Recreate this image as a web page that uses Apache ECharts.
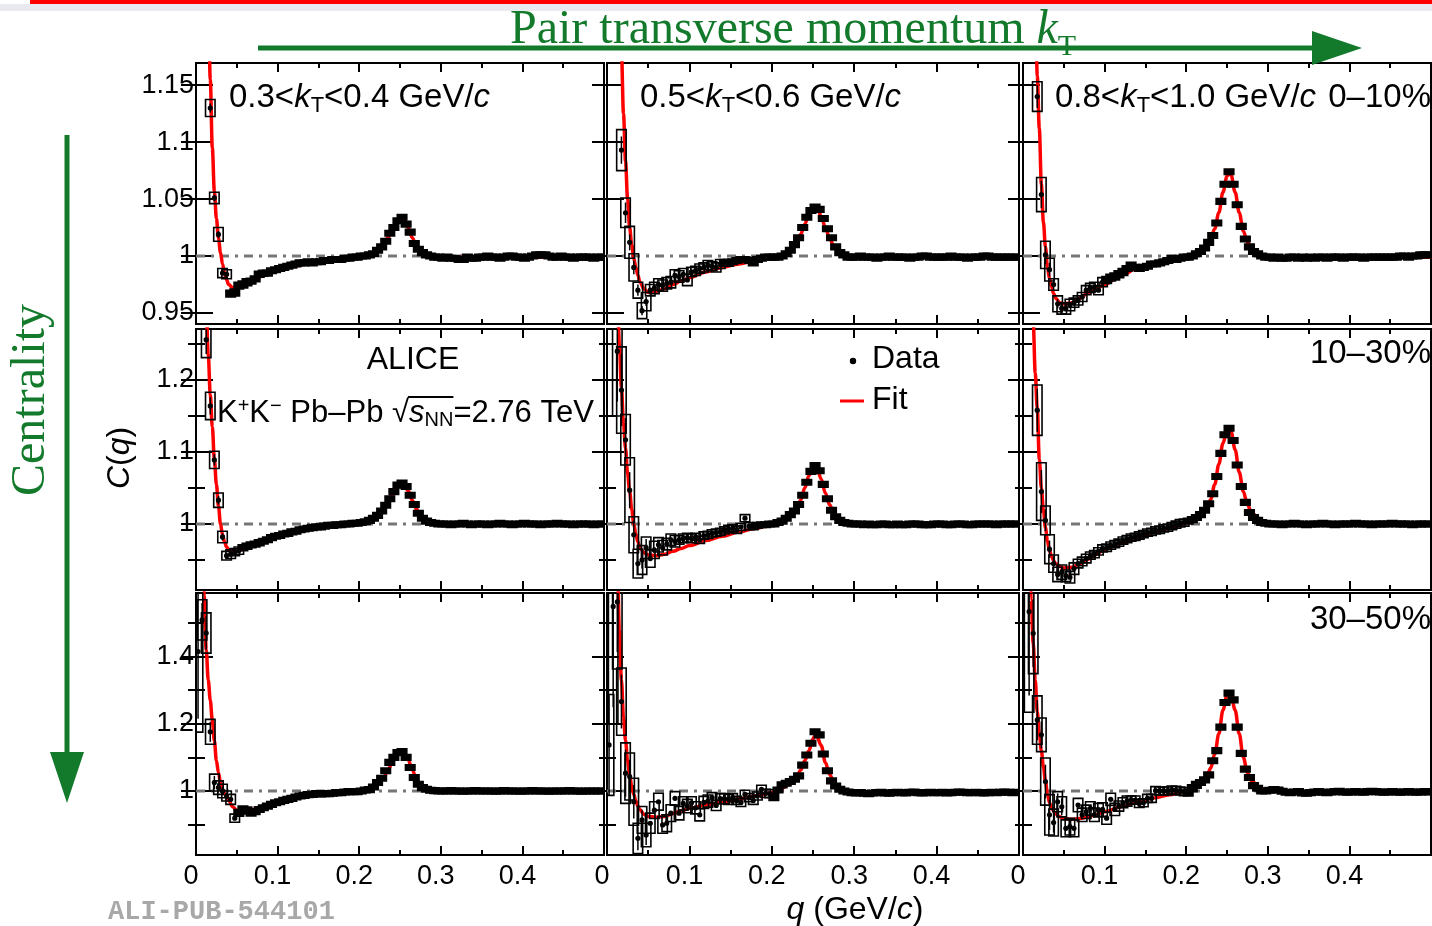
<!DOCTYPE html>
<html>
<head>
<meta charset="utf-8">
<title>K+K- correlation functions, Pb-Pb 2.76 TeV</title>
<script src="https://cdn.jsdelivr.net/npm/echarts@6/dist/echarts.min.js"></script>
<style>
  html, body { margin: 0; padding: 0; background: #fff; }
  #chart { width: 1432px; height: 926px; }
</style>
</head>
<body>
<div id="chart"></div>
<script>
// ---------------------------------------------------------------------------
// Bin centres in q (GeV/c)
const Q = [
  0.0025, 0.0075, 0.0125, 0.0175, 0.0225, 0.0275, 0.0325, 0.0375, 0.0425, 0.0475,
  0.0525, 0.0575, 0.0625, 0.0675, 0.0725, 0.0775, 0.0825, 0.0875, 0.0925, 0.0975,
  0.1025, 0.1075, 0.1125, 0.1175, 0.1225, 0.1275, 0.1325, 0.1375, 0.1425, 0.1475,
  0.1525, 0.1575, 0.1625, 0.1675, 0.1725, 0.1775, 0.1825, 0.1875, 0.1925, 0.1975,
  0.2025, 0.2075, 0.2125, 0.2175, 0.2225, 0.2275, 0.2325, 0.2375, 0.2425, 0.2475,
  0.2525, 0.2575, 0.2625, 0.2675, 0.2725, 0.2775, 0.2825, 0.2875, 0.2925, 0.2975,
  0.3025, 0.3075, 0.3125, 0.3175, 0.3225, 0.3275, 0.3325, 0.3375, 0.3425, 0.3475,
  0.3525, 0.3575, 0.3625, 0.3675, 0.3725, 0.3775, 0.3825, 0.3875, 0.3925, 0.3975,
  0.4025, 0.4075, 0.4125, 0.4175, 0.4225, 0.4275, 0.4325, 0.4375, 0.4425, 0.4475,
  0.4525, 0.4575, 0.4625, 0.4675, 0.4725, 0.4775, 0.4825, 0.4875, 0.4925, 0.4975
];

// Correlation function C(q) per centrality / kT bin (null = outside the frame)
const C_0010_KT1 = [
  null, null, null, 1.130, 1.051, 1.019, 0.985, 0.984, 0.967, 0.968,
  0.974, 0.975, 0.977, 0.978, 0.980, 0.984, 0.985, 0.985, 0.987, 0.988,
  0.989, 0.990, 0.991, 0.992, 0.993, 0.994, 0.994, 0.995, 0.994, 0.995,
  0.995, 0.996, 0.996, 0.997, 0.997, 0.997, 0.998, 0.998, 0.999, 0.999,
  1.000, 1.000, 1.001, 1.002, 1.005, 1.008, 1.013, 1.020, 1.025, 1.031,
  1.034, 1.028, 1.021, 1.011, 1.006, 1.003, 1.001, 1.000, 0.999, 0.999,
  0.998, 0.999, 0.998, 0.998, 0.997, 0.997, 0.999, 0.998, 0.998, 0.999,
  0.999, 1.000, 0.999, 0.999, 0.998, 0.999, 1.000, 1.000, 0.999, 0.999,
  0.998, 0.999, 1.000, 1.001, 1.001, 1.001, 1.000, 0.999, 0.999, 1.000,
  0.999, 0.999, 0.998, 0.999, 0.999, 0.999, 0.999, 0.998, 0.999, 0.999
];
const C_0010_KT2 = [
  null, null, null, 1.093, 1.038, 1.012, 0.990, 0.970, 0.952, 0.960,
  0.970, 0.972, 0.975, 0.974, 0.976, 0.977, 0.983, 0.982, 0.984, 0.979,
  0.986, 0.987, 0.989, 0.990, 0.992, 0.991, 0.990, 0.993, 0.994, 0.994,
  0.995, 0.996, 0.997, 0.997, 0.996, 0.994, 0.997, 0.998, 0.999, 0.999,
  0.999, 0.999, 1.000, 1.002, 1.005, 1.010, 1.016, 1.025, 1.034, 1.040,
  1.043, 1.041, 1.033, 1.024, 1.016, 1.008, 1.003, 1.001, 0.999, 0.999,
  0.999, 1.000, 0.999, 0.999, 0.999, 0.998, 0.999, 0.999, 1.000, 0.999,
  0.999, 0.999, 0.999, 0.998, 0.999, 0.999, 1.000, 1.000, 0.999, 0.999,
  0.999, 0.999, 0.999, 1.000, 0.999, 0.999, 0.999, 0.998, 0.999, 0.999,
  0.999, 1.000, 1.000, 0.999, 0.999, 0.999, 0.999, 0.999, 0.999, 0.999
];
const C_0010_KT3 = [
  null, null, null, 1.140, 1.054, 1.001, 0.988, 0.975, 0.958, 0.954,
  0.954, 0.957, 0.959, 0.961, 0.964, 0.970, 0.972, 0.973, 0.970, 0.977,
  0.979, 0.981, 0.982, 0.984, 0.986, 0.989, 0.992, 0.990, 0.989, 0.990,
  0.991, 0.993, 0.993, 0.994, 0.995, 0.996, 0.998, 0.997, 0.998, 0.999,
  0.999, 1.000, 1.002, 1.004, 1.007, 1.012, 1.018, 1.029, 1.048, 1.063,
  1.074, 1.063, 1.045, 1.026, 1.015, 1.008, 1.004, 1.002, 1.000, 0.999,
  0.999, 0.998, 0.999, 0.998, 0.998, 0.999, 0.999, 0.998, 0.999, 0.998,
  0.999, 0.998, 0.999, 0.999, 0.998, 0.999, 0.999, 0.999, 0.998, 0.999,
  0.999, 0.999, 0.999, 0.998, 0.999, 0.999, 0.999, 0.999, 0.999, 0.999,
  0.999, 0.999, 1.000, 1.000, 0.999, 1.000, 1.000, 1.001, 1.001, 1.001
];
const C_1030_KT1 = [
  null, null, 1.256, 1.164, 1.089, 1.033, 0.982, 0.956, 0.958, 0.961,
  0.963, 0.967, 0.969, 0.971, 0.972, 0.974, 0.976, 0.978, 0.981, 0.983,
  0.984, 0.986, 0.987, 0.989, 0.990, 0.992, 0.993, 0.994, 0.995, 0.996,
  0.996, 0.997, 0.998, 0.998, 0.999, 0.999, 1.000, 1.000, 1.001, 1.001,
  1.002, 1.003, 1.005, 1.008, 1.012, 1.018, 1.026, 1.035, 1.045, 1.054,
  1.057, 1.052, 1.040, 1.027, 1.015, 1.008, 1.004, 1.002, 1.001, 1.000,
  1.000, 1.000, 0.999, 1.000, 1.000, 1.001, 1.000, 0.999, 1.000, 1.000,
  1.000, 0.999, 1.000, 1.000, 1.001, 1.000, 1.000, 0.999, 1.000, 1.000,
  1.001, 1.000, 1.000, 1.000, 0.999, 1.000, 1.000, 1.000, 1.001, 1.000,
  1.000, 1.000, 0.999, 1.000, 1.000, 1.000, 1.000, 0.999, 1.000, 1.000
];
const C_1030_KT2 = [
  null, null, 1.240, 1.186, 1.117, 1.047, 0.985, 0.945, 0.950, 0.967,
  0.952, 0.964, 0.971, 0.967, 0.972, 0.978, 0.976, 0.978, 0.980, 0.981,
  0.980, 0.982, 0.978, 0.984, 0.985, 0.987, 0.988, 0.989, 0.991, 0.993,
  0.994, 0.992, 0.996, 1.008, 0.997, 0.996, 0.998, 0.999, 0.999, 1.000,
  1.000, 1.002, 1.004, 1.008, 1.013, 1.018, 1.027, 1.040, 1.058, 1.073,
  1.081, 1.074, 1.055, 1.035, 1.019, 1.010, 1.005, 1.002, 1.001, 1.000,
  1.000, 1.000, 0.999, 1.000, 0.999, 0.999, 1.000, 1.000, 0.999, 0.999,
  1.000, 0.999, 0.999, 1.000, 1.000, 1.000, 0.999, 0.999, 0.999, 1.000,
  1.000, 1.000, 0.999, 0.999, 1.000, 1.000, 1.000, 0.999, 0.999, 1.000,
  1.000, 1.000, 1.000, 1.000, 0.999, 1.000, 1.000, 1.000, 1.000, 1.000
];
const C_1030_KT3 = [
  null, null, null, 1.158, 1.045, 1.005, 0.965, 0.945, 0.930, 0.933,
  0.928, 0.926, 0.938, 0.945, 0.948, 0.952, 0.956, 0.958, 0.962, 0.966,
  0.967, 0.970, 0.972, 0.974, 0.977, 0.979, 0.981, 0.982, 0.984, 0.986,
  0.988, 0.989, 0.991, 0.992, 0.994, 0.995, 0.997, 0.999, 1.001, 1.002,
  1.004, 1.006, 1.009, 1.013, 1.019, 1.028, 1.042, 1.066, 1.098, 1.124,
  1.133, 1.116, 1.082, 1.052, 1.030, 1.016, 1.009, 1.005, 1.002, 1.001,
  1.000, 1.000, 1.000, 0.999, 1.000, 1.000, 1.001, 1.000, 1.000, 0.999,
  1.000, 1.000, 1.000, 1.001, 1.000, 1.000, 0.999, 1.000, 1.000, 1.000,
  1.000, 1.001, 1.000, 1.000, 1.000, 0.999, 1.000, 1.000, 1.000, 1.000,
  1.001, 1.000, 1.000, 1.000, 1.000, 0.999, 1.000, 1.000, 1.000, 1.000
];
const C_3050_KT1 = [
  1.415, 1.509, 1.470, 1.176, 1.025, 1.010, 1.000, 0.985, 0.975, 0.919,
  0.935, 0.945, 0.942, 0.934, 0.938, 0.945, 0.950, 0.955, 0.960, 0.965,
  0.968, 0.972, 0.975, 0.978, 0.982, 0.985, 0.987, 0.989, 0.990, 0.992,
  0.991, 0.992, 0.992, 0.993, 0.995, 0.995, 0.997, 0.998, 0.998, 0.998,
  1.000, 1.003, 1.004, 1.012, 1.025, 1.038, 1.060, 1.085, 1.100, 1.114,
  1.117, 1.100, 1.070, 1.040, 1.020, 1.010, 1.005, 1.002, 1.001, 1.000,
  1.000, 1.000, 1.001, 1.000, 1.000, 0.999, 1.000, 1.000, 1.001, 1.000,
  1.000, 1.000, 1.000, 0.999, 1.000, 1.001, 1.000, 1.000, 1.000, 0.999,
  1.000, 1.000, 1.001, 1.000, 1.000, 1.000, 0.999, 1.000, 1.000, 1.000,
  1.000, 1.001, 1.000, 1.000, 0.999, 1.000, 1.000, 1.000, 1.000, 1.000
];
const C_3050_KT2 = [
  1.137, 1.549, 1.563, 1.266, 1.053, 1.043, 0.968, 0.859, 0.914, 0.869,
  0.904, 0.943, 0.968, 0.899, 0.904, 0.934, 0.978, 0.934, 0.963, 0.955,
  0.965, 0.950, 0.929, 0.966, 0.970, 0.980, 0.957, 0.977, 0.977, 0.975,
  0.980, 0.972, 0.966, 0.990, 0.980, 0.972, 0.985, 1.005, 0.993, 0.992,
  0.982, 1.003, 1.018, 1.023, 1.028, 1.035, 1.045, 1.077, 1.107, 1.142,
  1.176, 1.167, 1.110, 1.060, 1.030, 1.015, 1.005, 1.000, 0.997, 0.995,
  0.994, 0.995, 0.993, 0.992, 0.994, 0.995, 0.996, 0.994, 0.993, 0.995,
  0.996, 0.995, 0.994, 0.996, 0.997, 0.995, 0.994, 0.995, 0.996, 0.995,
  0.995, 0.996, 0.994, 0.995, 0.996, 0.997, 0.996, 0.995, 0.995, 0.996,
  0.995, 0.994, 0.995, 0.996, 0.995, 0.996, 0.997, 0.996, 0.995, 0.996
];
const C_3050_KT3 = [
  null, 1.534, 1.469, 1.211, 1.167, 1.028, 0.929, 0.906, 0.968, 0.953,
  0.889, 0.894, 0.889, 0.958, 0.929, 0.938, 0.948, 0.929, 0.943, 0.945,
  0.919, 0.975, 0.945, 0.955, 0.965, 0.970, 0.973, 0.973, 0.963, 0.965,
  0.978, 0.978, 1.001, 1.000, 1.000, 1.000, 1.003, 1.002, 1.000, 0.998,
  0.995, 1.008, 1.018, 1.025, 1.033, 1.048, 1.090, 1.120, 1.190, 1.263,
  1.291, 1.271, 1.190, 1.112, 1.065, 1.040, 1.016, 1.008, 1.000, 1.000,
  1.002, 1.004, 1.003, 0.999, 0.996, 0.995, 0.997, 0.998, 0.994, 0.993,
  0.995, 0.997, 0.998, 0.996, 0.995, 0.997, 0.998, 0.999, 0.997, 0.996,
  0.997, 0.998, 0.997, 0.996, 0.998, 0.999, 0.998, 0.997, 0.996, 0.997,
  0.998, 0.997, 0.996, 0.997, 0.998, 0.997, 0.996, 0.997, 0.998, 0.997
];

// Systematic uncertainties (half-height of the boxes) for the leading bins; later bins are tiny
const SYS_0010_KT1 = [0, 0, 0, 0.0075, 0.005, 0.006, 0.004, 0.004, 0.003, 0.003, 0.003, 0.003, 0.003, 0.0025, 0.0025, 0.0025];
const SYS_0010_KT2 = [0, 0, 0, 0.018, 0.013, 0.014, 0.012, 0.007, 0.007, 0.008, 0.005, 0.005, 0.005, 0.005, 0.005, 0.005, 0.005, 0.005, 0.005, 0.005, 0.004, 0.004, 0.004, 0.004, 0.004, 0.004, 0.004, 0.004, 0.003, 0.003];
const SYS_0010_KT3 = [0, 0, 0, 0.013, 0.015, 0.012, 0.010, 0.005, 0.007, 0.005, 0.005, 0.005, 0.004, 0.004, 0.004, 0.004, 0.004, 0.004, 0.004, 0.004, 0.003, 0.003, 0.003, 0.003, 0.003];
const SYS_1030_KT1 = [0, 0, 0.025, 0.019, 0.012, 0.010, 0.008, 0.006, 0.006, 0.005, 0.005, 0.004, 0.004, 0.004, 0.004, 0.004];
const SYS_1030_KT2 = [0, 0, 0.09, 0.06, 0.035, 0.045, 0.025, 0.02, 0.02, 0.015, 0.012, 0.012, 0.010, 0.010, 0.008, 0.008, 0.008, 0.006, 0.006, 0.006, 0.006, 0.005, 0.005, 0.005, 0.005, 0.005, 0.005, 0.005, 0.005, 0.005, 0.005, 0.005, 0.005, 0.005, 0.005];
const SYS_1030_KT3 = [0, 0, 0, 0.035, 0.04, 0.02, 0.02, 0.012, 0.01, 0.01, 0.008, 0.008, 0.008, 0.006, 0.006, 0.006, 0.005, 0.005, 0.005, 0.005, 0.005, 0.005, 0.005, 0.005, 0.005, 0.005, 0.005, 0.005, 0.005, 0.005, 0.005, 0.005, 0.005, 0.005, 0.005, 0.005, 0.005, 0.005, 0.005, 0.005];
const SYS_3050_KT1 = [0.24, 0.06, 0.06, 0.037, 0.025, 0.02, 0.02, 0.015, 0.015, 0.012, 0.01, 0.01, 0.01, 0.008, 0.008, 0.008, 0.007, 0.007, 0.007, 0.007];
const SYS_3050_KT2 = [0.15, 0.35, 0.2, 0.10, 0.09, 0.07, 0.07, 0.045, 0.04, 0.035, 0.03, 0.025, 0.025, 0.025, 0.025, 0.025, 0.02, 0.02, 0.02, 0.02, 0.018, 0.018, 0.018, 0.018, 0.018, 0.015, 0.015, 0.015, 0.015, 0.015, 0.012, 0.012, 0.012, 0.012, 0.012, 0.012, 0.012, 0.012, 0.012, 0.012, 0.01];
const SYS_3050_KT3 = [0, 0.3, 0.12, 0.072, 0.05, 0.07, 0.06, 0.04, 0.03, 0.03, 0.025, 0.025, 0.025, 0.02, 0.02, 0.02, 0.02, 0.02, 0.02, 0.02, 0.018, 0.018, 0.018, 0.015, 0.015, 0.015, 0.012, 0.012, 0.012, 0.012, 0.012, 0.012, 0.012, 0.012, 0.012, 0.012, 0.012, 0.012, 0.012, 0.012, 0.01, 0.01, 0.01];

// Statistical uncertainties for the leading bins
const STAT_0010_KT1 = [0, 0, 0, 0.004, 0.003, 0.003, 0.002, 0.002, 0.002, 0.002];
const STAT_0010_KT2 = [0, 0, 0, 0.012, 0.009, 0.007, 0.006, 0.005, 0.004, 0.004];
const STAT_0010_KT3 = [0, 0, 0, 0.010, 0.012, 0.008, 0.006, 0.005, 0.004, 0.004];
const STAT_1030_KT1 = [0, 0, 0.02, 0.012, 0.008, 0.006, 0.005, 0.004];
const STAT_1030_KT2 = [0, 0, 0.07, 0.05, 0.03, 0.025, 0.02, 0.015, 0.012, 0.012];
const STAT_1030_KT3 = [0, 0, 0, 0.03, 0.03, 0.015, 0.012, 0.01, 0.008, 0.008];
const STAT_3050_KT1 = [0.2, 0.05, 0.05, 0.03, 0.02, 0.015, 0.012, 0.01];
const STAT_3050_KT2 = [0.15, 0.3, 0.15, 0.08, 0.07, 0.05, 0.05, 0.035, 0.03, 0.03];
const STAT_3050_KT3 = [0, 0.25, 0.1, 0.06, 0.04, 0.05, 0.045, 0.03, 0.025, 0.025];

// Fit curves sampled at FIT_Q
const FIT_Q = [
  0.0075, 0.01, 0.0125, 0.015, 0.0175, 0.02, 0.0225, 0.025, 0.0275, 0.03,
  0.0325, 0.035, 0.0375, 0.04, 0.045, 0.05, 0.06, 0.07, 0.08, 0.09,
  0.10, 0.12, 0.14, 0.16, 0.18, 0.20, 0.21, 0.22, 0.225, 0.23,
  0.235, 0.24, 0.245, 0.25, 0.2525, 0.255, 0.26, 0.265, 0.27, 0.275,
  0.28, 0.29, 0.30, 0.32, 0.35, 0.40, 0.45, 0.50
];
const FIT_0010_KT1 = [
  1.75, 1.50, 1.33, 1.23, 1.155, 1.095, 1.057, 1.033, 1.016, 1.003,
  0.993, 0.985, 0.979, 0.975, 0.972, 0.9725, 0.976, 0.979, 0.982, 0.985,
  0.987, 0.991, 0.994, 0.996, 0.997, 0.999, 1.001, 1.004, 1.007, 1.011,
  1.016, 1.022, 1.028, 1.032, 1.033, 1.032, 1.025, 1.016, 1.009, 1.005,
  1.002, 1.000, 0.999, 0.999, 0.999, 0.999, 0.999, 0.999
];
const FIT_0010_KT2 = [
  1.80, 1.55, 1.38, 1.27, 1.18, 1.125, 1.083, 1.05, 1.025, 1.01,
  0.998, 0.99, 0.983, 0.977, 0.971, 0.968, 0.969, 0.971, 0.975, 0.978,
  0.981, 0.986, 0.990, 0.993, 0.996, 0.999, 1.000, 1.004, 1.007, 1.012,
  1.019, 1.028, 1.037, 1.042, 1.043, 1.042, 1.035, 1.025, 1.016, 1.009,
  1.004, 1.001, 1.000, 0.999, 0.999, 0.999, 0.999, 0.999
];
const FIT_0010_KT3 = [
  1.70, 1.50, 1.35, 1.24, 1.158, 1.112, 1.063, 1.03, 1.008, 0.99,
  0.98, 0.973, 0.967, 0.963, 0.959, 0.958, 0.959, 0.963, 0.968, 0.9715,
  0.975, 0.983, 0.989, 0.994, 0.997, 0.999, 1.001, 1.005, 1.009, 1.015,
  1.024, 1.038, 1.056, 1.070, 1.073, 1.071, 1.056, 1.038, 1.022, 1.012,
  1.006, 1.001, 1.000, 0.999, 0.999, 0.999, 0.999, 0.999
];
const FIT_1030_KT1 = [
  1.60, 1.42, 1.30, 1.235, 1.18, 1.135, 1.09, 1.055, 1.025, 1.0,
  0.985, 0.975, 0.968, 0.964, 0.961, 0.962, 0.966, 0.971, 0.975, 0.979,
  0.983, 0.988, 0.993, 0.996, 0.999, 1.001, 1.004, 1.010, 1.015, 1.022,
  1.030, 1.040, 1.049, 1.055, 1.056, 1.055, 1.046, 1.033, 1.021, 1.012,
  1.006, 1.002, 1.000, 1.000, 1.000, 1.000, 1.000, 1.000
];
const FIT_1030_KT2 = [
  1.75, 1.50, 1.33, 1.25, 1.19, 1.14, 1.105, 1.07, 1.045, 1.02,
  1.0, 0.986, 0.975, 0.967, 0.96, 0.957, 0.956, 0.958, 0.962, 0.966,
  0.970, 0.977, 0.983, 0.989, 0.994, 0.999, 1.002, 1.008, 1.013, 1.021,
  1.033, 1.050, 1.067, 1.078, 1.080, 1.077, 1.062, 1.043, 1.027, 1.016,
  1.009, 1.003, 1.001, 1.000, 1.000, 1.000, 1.000, 1.000
];
const FIT_1030_KT3 = [
  1.70, 1.45, 1.28, 1.21, 1.16, 1.09, 1.05, 1.02, 0.995, 0.976,
  0.963, 0.955, 0.949, 0.945, 0.941, 0.939, 0.940, 0.945, 0.951, 0.958,
  0.965, 0.973, 0.981, 0.988, 0.994, 1.001, 1.005, 1.012, 1.020, 1.034,
  1.055, 1.083, 1.112, 1.130, 1.133, 1.128, 1.103, 1.072, 1.045, 1.027,
  1.016, 1.006, 1.002, 1.000, 1.000, 1.000, 1.000, 1.000
];
const FIT_3050_KT1 = [
  1.85, 1.58, 1.42, 1.33, 1.27, 1.21, 1.15, 1.09, 1.055, 1.025,
  1.005, 0.992, 0.981, 0.972, 0.953, 0.942, 0.940, 0.945, 0.953, 0.961,
  0.967, 0.978, 0.986, 0.991, 0.995, 0.999, 1.004, 1.015, 1.025, 1.040,
  1.060, 1.082, 1.103, 1.115, 1.117, 1.114, 1.093, 1.063, 1.037, 1.020,
  1.010, 1.003, 1.001, 1.000, 1.000, 1.000, 1.000, 1.000
];
const FIT_3050_KT2 = [
  2.2, 1.95, 1.70, 1.48, 1.33, 1.22, 1.15, 1.09, 1.048, 1.015,
  0.99, 0.97, 0.955, 0.944, 0.93, 0.924, 0.922, 0.924, 0.933, 0.941,
  0.948, 0.958, 0.967, 0.976, 0.985, 0.995, 1.005, 1.018, 1.028, 1.042,
  1.062, 1.09, 1.12, 1.155, 1.165, 1.16, 1.135, 1.085, 1.05, 1.028,
  1.014, 1.003, 0.998, 0.996, 0.995, 0.995, 0.995, 0.995
];
const FIT_3050_KT3 = [
  1.85, 1.57, 1.44, 1.33, 1.235, 1.17, 1.12, 1.072, 1.03, 0.99,
  0.965, 0.95, 0.94, 0.932, 0.923, 0.918, 0.916, 0.918, 0.924, 0.930,
  0.938, 0.953, 0.967, 0.979, 0.989, 1.0, 1.008, 1.025, 1.04, 1.068,
  1.11, 1.17, 1.24, 1.285, 1.292, 1.285, 1.24, 1.17, 1.10, 1.055,
  1.03, 1.01, 1.002, 0.998, 0.997, 0.997, 0.997, 0.997
];

// Axis ticks / labels
const Q_MAJOR = [0.1, 0.2, 0.3, 0.4];
const Q_MINOR = [0.05, 0.15, 0.25, 0.35, 0.45];
const Q_LABELS = [0, 0.1, 0.2, 0.3, 0.4];
const C_RANGE_0010 = [0.9403, 1.1695];
const C_RANGE_1030 = [0.9083, 1.2708];
const C_RANGE_3050 = [0.8095, 1.589];
const C_MAJOR_0010 = [0.95, 1, 1.05, 1.1, 1.15];
const C_MINOR_0010 = [];
const C_MAJOR_1030 = [1, 1.1, 1.2];
const C_MINOR_1030 = [0.95, 1.05, 1.15, 1.25];
const C_MAJOR_3050 = [1, 1.2, 1.4];
const C_MINOR_3050 = [0.9, 1.1, 1.3, 1.5];

// ---------------------------------------------------------------------------
// Layout and styling
const FONT = '"Liberation Sans", Arial, Helvetica, sans-serif';
const SERIF = '"Liberation Serif", "Times New Roman", serif';
const GREEN = '#137a2c';
const COL_LEFT = [196, 607, 1023];
const COL_WIDTH = [408, 412, 408];
const ROW_TOP = [63, 329, 593];
const ROW_HEIGHT = [261, 261, 262];

const ROWS = [
  { range: C_RANGE_0010, major: C_MAJOR_0010, minor: C_MINOR_0010,
    c: [C_0010_KT1, C_0010_KT2, C_0010_KT3], sys: [SYS_0010_KT1, SYS_0010_KT2, SYS_0010_KT3],
    stat: [STAT_0010_KT1, STAT_0010_KT2, STAT_0010_KT3], fit: [FIT_0010_KT1, FIT_0010_KT2, FIT_0010_KT3] },
  { range: C_RANGE_1030, major: C_MAJOR_1030, minor: C_MINOR_1030,
    c: [C_1030_KT1, C_1030_KT2, C_1030_KT3], sys: [SYS_1030_KT1, SYS_1030_KT2, SYS_1030_KT3],
    stat: [STAT_1030_KT1, STAT_1030_KT2, STAT_1030_KT3], fit: [FIT_1030_KT1, FIT_1030_KT2, FIT_1030_KT3] },
  { range: C_RANGE_3050, major: C_MAJOR_3050, minor: C_MINOR_3050,
    c: [C_3050_KT1, C_3050_KT2, C_3050_KT3], sys: [SYS_3050_KT1, SYS_3050_KT2, SYS_3050_KT3],
    stat: [STAT_3050_KT1, STAT_3050_KT2, STAT_3050_KT3], fit: [FIT_3050_KT1, FIT_3050_KT2, FIT_3050_KT3] }
];

const fmt = v => String(Math.round(v * 1000) / 1000);
const tickStyle = { color: '#000', width: 2 };

function qAxis(g, position, ticks, len, labels) {
  return {
    type: 'value', gridIndex: g, position, min: 0, max: 0.5,
    axisLine: { show: false }, splitLine: { show: false },
    axisTick: { show: true, inside: true, length: len, customValues: ticks, lineStyle: tickStyle },
    axisLabel: labels
      ? { show: true, customValues: labels, fontFamily: FONT, fontSize: 27, color: '#000', margin: 8,
          padding: [0, 10, 0, 0], formatter: fmt }
      : { show: false }
  };
}
function cAxis(g, position, range, ticks, len, labels) {
  return {
    type: 'value', gridIndex: g, position, min: range[0], max: range[1],
    axisLine: { show: false }, splitLine: { show: false },
    axisTick: { show: ticks.length > 0, inside: true, length: len, customValues: ticks.length ? ticks : [1], lineStyle: tickStyle },
    axisLabel: labels
      ? { show: true, customValues: labels, fontFamily: FONT, fontSize: 27, color: '#000', margin: 2, formatter: fmt }
      : { show: false }
  };
}

// A data point: systematic box, statistical bar and marker
function renderPoint(params, api) {
  const q = api.value(0), c = api.value(1), sys = api.value(2), stat = api.value(3);
  const ctr = api.coord([q, c]);
  const yTop = api.coord([q, c + sys])[1];
  const yBot = api.coord([q, c - sys])[1];
  const h = Math.max(yBot - yTop, 5.5);
  const w = 9.5;
  const solid = h <= 7;
  const kids = [{
    type: 'rect',
    shape: { x: ctr[0] - w / 2, y: ctr[1] - h / 2, width: w, height: h },
    style: { fill: solid ? '#000' : 'none', stroke: '#000', lineWidth: 1.6 }
  }];
  if (stat > 0) {
    const a = api.coord([q, c + stat]), b = api.coord([q, c - stat]);
    kids.push({ type: 'line', shape: { x1: a[0], y1: a[1], x2: b[0], y2: b[1] }, style: { stroke: '#000', lineWidth: 1.5 } });
  }
  kids.push({ type: 'circle', shape: { cx: ctr[0], cy: ctr[1], r: 2.6 }, style: { fill: '#000' } });
  return { type: 'group', children: kids };
}

const grids = [], xAxes = [], yAxes = [], series = [];
ROWS.forEach((row, r) => {
  for (let col = 0; col < 3; col++) {
    const g = grids.length;
    grids.push({
      left: COL_LEFT[col], top: ROW_TOP[r], width: COL_WIDTH[col], height: ROW_HEIGHT[r],
      show: true, borderColor: '#000', borderWidth: 2, backgroundColor: 'transparent'
    });
    const xi = xAxes.length, yi = yAxes.length;
    xAxes.push(qAxis(g, 'bottom', Q_MAJOR, 9, r === 2 ? Q_LABELS : null));
    xAxes.push(qAxis(g, 'bottom', Q_MINOR, 5, null));
    xAxes.push(qAxis(g, 'top', Q_MAJOR, 9, null));
    xAxes.push(qAxis(g, 'top', Q_MINOR, 5, null));
    yAxes.push(cAxis(g, 'left', row.range, row.major, 17, col === 0 ? row.major : null));
    yAxes.push(cAxis(g, 'left', row.range, row.minor, 9, null));
    yAxes.push(cAxis(g, 'right', row.range, row.major, 15, null));
    yAxes.push(cAxis(g, 'right', row.range, row.minor, 8, null));

    // reference level C = 1
    series.push({
      type: 'line', xAxisIndex: xi, yAxisIndex: yi, silent: true, z: 1,
      data: [[0, 1], [0.5, 1]], symbol: 'none',
      lineStyle: { color: '#767676', width: 3, type: [9, 6, 3, 6] }
    });
    // fit
    const fit = row.fit[col];
    series.push({
      type: 'line', xAxisIndex: xi, yAxisIndex: yi, silent: true, z: 2, clip: true,
      data: FIT_Q.map((q, i) => [q, fit[i]]),
      smooth: 0.35, smoothMonotone: 'x', symbol: 'none',
      lineStyle: { color: '#ff0000', width: 3.5 }
    });
    // data
    const cv = row.c[col], sv = row.sys[col], st = row.stat[col];
    const pts = [];
    Q.forEach((q, i) => {
      if (cv[i] !== null) pts.push([q, cv[i], sv[i] || 0, st[i] || 0]);
    });
    series.push({
      type: 'custom', xAxisIndex: xi, yAxisIndex: yi, silent: true, z: 3, clip: true,
      encode: { x: 0, y: 1 }, data: pts, renderItem: renderPoint
    });
  }
});

// ---------------------------------------------------------------------------
// Annotations
function richSet(size) {
  return {
    n: { fontFamily: FONT, fontSize: size, fill: '#000' },
    i: { fontFamily: FONT, fontSize: size, fontStyle: 'italic', fill: '#000' },
    sub: { fontFamily: FONT, fontSize: Math.round(size * 0.66), fill: '#000', padding: [15, 0, 0, 0] },
    sup: { fontFamily: FONT, fontSize: Math.round(size * 0.66), fill: '#000', padding: [0, 0, 14, 0] }
  };
}
const RICH = richSet(32);
function label(x, y, text, align, extra, rich) {
  return Object.assign({
    type: 'text', x, y, silent: true, z: 100,
    style: { text, rich: rich || RICH, fontFamily: FONT, fontSize: 32, fill: '#000', align: align || 'left', verticalAlign: 'middle' }
  }, extra || {});
}
const RICH_KT = richSet(33);
const RICH_SYS = richSet(31);

const elements = [
  // header band
  { type: 'rect', shape: { x: 0, y: 4, width: 1432, height: 7 }, style: { fill: '#e8eaef' }, silent: true },
  { type: 'rect', shape: { x: 30, y: 0, width: 1402, height: 4 }, style: { fill: '#ff0000' }, silent: true },

  // kT bins and centrality
  label(229, 98, '{n|0.3<}{i|k}{sub|T}{n|<0.4 GeV/}{i|c}', 'left', null, RICH_KT),
  label(640, 98, '{n|0.5<}{i|k}{sub|T}{n|<0.6 GeV/}{i|c}', 'left', null, RICH_KT),
  label(1055, 98, '{n|0.8<}{i|k}{sub|T}{n|<1.0 GeV/}{i|c}', 'left', null, RICH_KT),
  label(1431, 98, '{n|0–10%}', 'right', null, RICH_KT),
  label(1431, 354, '{n|10–30%}', 'right', null, RICH_KT),
  label(1431, 620, '{n|30–50%}', 'right', null, RICH_KT),

  // system
  label(413, 360, '{n|ALICE}', 'center'),
  label(217, 413, '{n|K}{sup|+}{n|K}{sup|−}{n| Pb–Pb }{n|√}{i|s}{sub|NN}{n|=2.76 TeV}', 'left', null, RICH_SYS),

  // legend
  { type: 'circle', shape: { cx: 853, cy: 361, r: 3.2 }, style: { fill: '#000' }, silent: true, z: 100 },
  label(872, 359, '{n|Data}'),
  { type: 'line', shape: { x1: 840, y1: 401, x2: 864, y2: 401 }, style: { stroke: '#ff0000', lineWidth: 3 }, silent: true, z: 100 },
  label(872, 400, '{n|Fit}'),

  // axis titles
  label(120, 458, '{i|C}{n|(}{i|q}{n|)}', 'center', { rotation: Math.PI / 2 }),
  label(855, 910, '{i|q}{n| (GeV/}{i|c}{n|)}', 'center'),

  // publication tag
  { type: 'text', x: 108, y: 912, silent: true,
    style: { text: 'ALI-PUB-544101', fontFamily: '"Liberation Mono", "DejaVu Sans Mono", monospace', fontWeight: 'bold',
             fontSize: 27, fill: '#a8a8a8', align: 'left', verticalAlign: 'middle' } },

  // green guide arrows
  { type: 'text', x: 510, y: 30, silent: true,
    style: { text: '{g|Pair transverse momentum }{gi|k}{gs|T}', align: 'left', verticalAlign: 'middle',
             rich: {
               g: { fontFamily: SERIF, fontSize: 48, fill: GREEN },
               gi: { fontFamily: SERIF, fontSize: 48, fontStyle: 'italic', fill: GREEN },
               gs: { fontFamily: SERIF, fontSize: 30, fill: GREEN, padding: [34, 0, 0, 0] }
             } } },
  { type: 'line', shape: { x1: 258, y1: 48, x2: 1320, y2: 48 }, style: { stroke: GREEN, lineWidth: 5 }, silent: true },
  { type: 'polygon', shape: { points: [[1312, 31], [1362, 48], [1312, 65]] }, style: { fill: GREEN }, silent: true },
  { type: 'text', x: 31, y: 400, rotation: Math.PI / 2, silent: true,
    style: { text: 'Centrality', fontFamily: SERIF, fontSize: 48, fill: GREEN, align: 'center', verticalAlign: 'middle' } },
  { type: 'line', shape: { x1: 67, y1: 135, x2: 67, y2: 760 }, style: { stroke: GREEN, lineWidth: 5 }, silent: true },
  { type: 'polygon', shape: { points: [[50, 752], [84, 752], [67, 803]] }, style: { fill: GREEN }, silent: true }
];

const chart = echarts.init(document.getElementById('chart'), null, { renderer: 'canvas' });
chart.setOption({
  backgroundColor: '#fff',
  animation: false,
  grid: grids,
  xAxis: xAxes,
  yAxis: yAxes,
  series,
  graphic: { elements }
});

// overline of the square root in the collision-energy label, placed from the rendered glyph extents
(function addRootBar() {
  const zr = chart.getZr();
  const ctx = document.createElement('canvas').getContext('2d');
  ctx.font = '31px ' + FONT;
  const pre = ctx.measureText('K').width * 2 + ctx.measureText(' Pb–Pb ').width;
  ctx.font = '20px ' + FONT;
  const sups = ctx.measureText('+').width + ctx.measureText('−').width;
  ctx.font = '31px ' + FONT;
  const rootW = ctx.measureText('√').width;
  ctx.font = 'italic 31px ' + FONT;
  const sW = ctx.measureText('s').width;
  ctx.font = '20px ' + FONT;
  const nnW = ctx.measureText('NN').width;
  const x0 = 217 + pre + sups + rootW - 1;
  chart.setOption({ graphic: { elements: elements.concat([
    { type: 'line', shape: { x1: x0, y1: 397, x2: x0 + sW + nnW + 1, y2: 397 }, style: { stroke: '#000', lineWidth: 2 }, silent: true, z: 100 }
  ]) } });
})();
</script>
</body>
</html>
